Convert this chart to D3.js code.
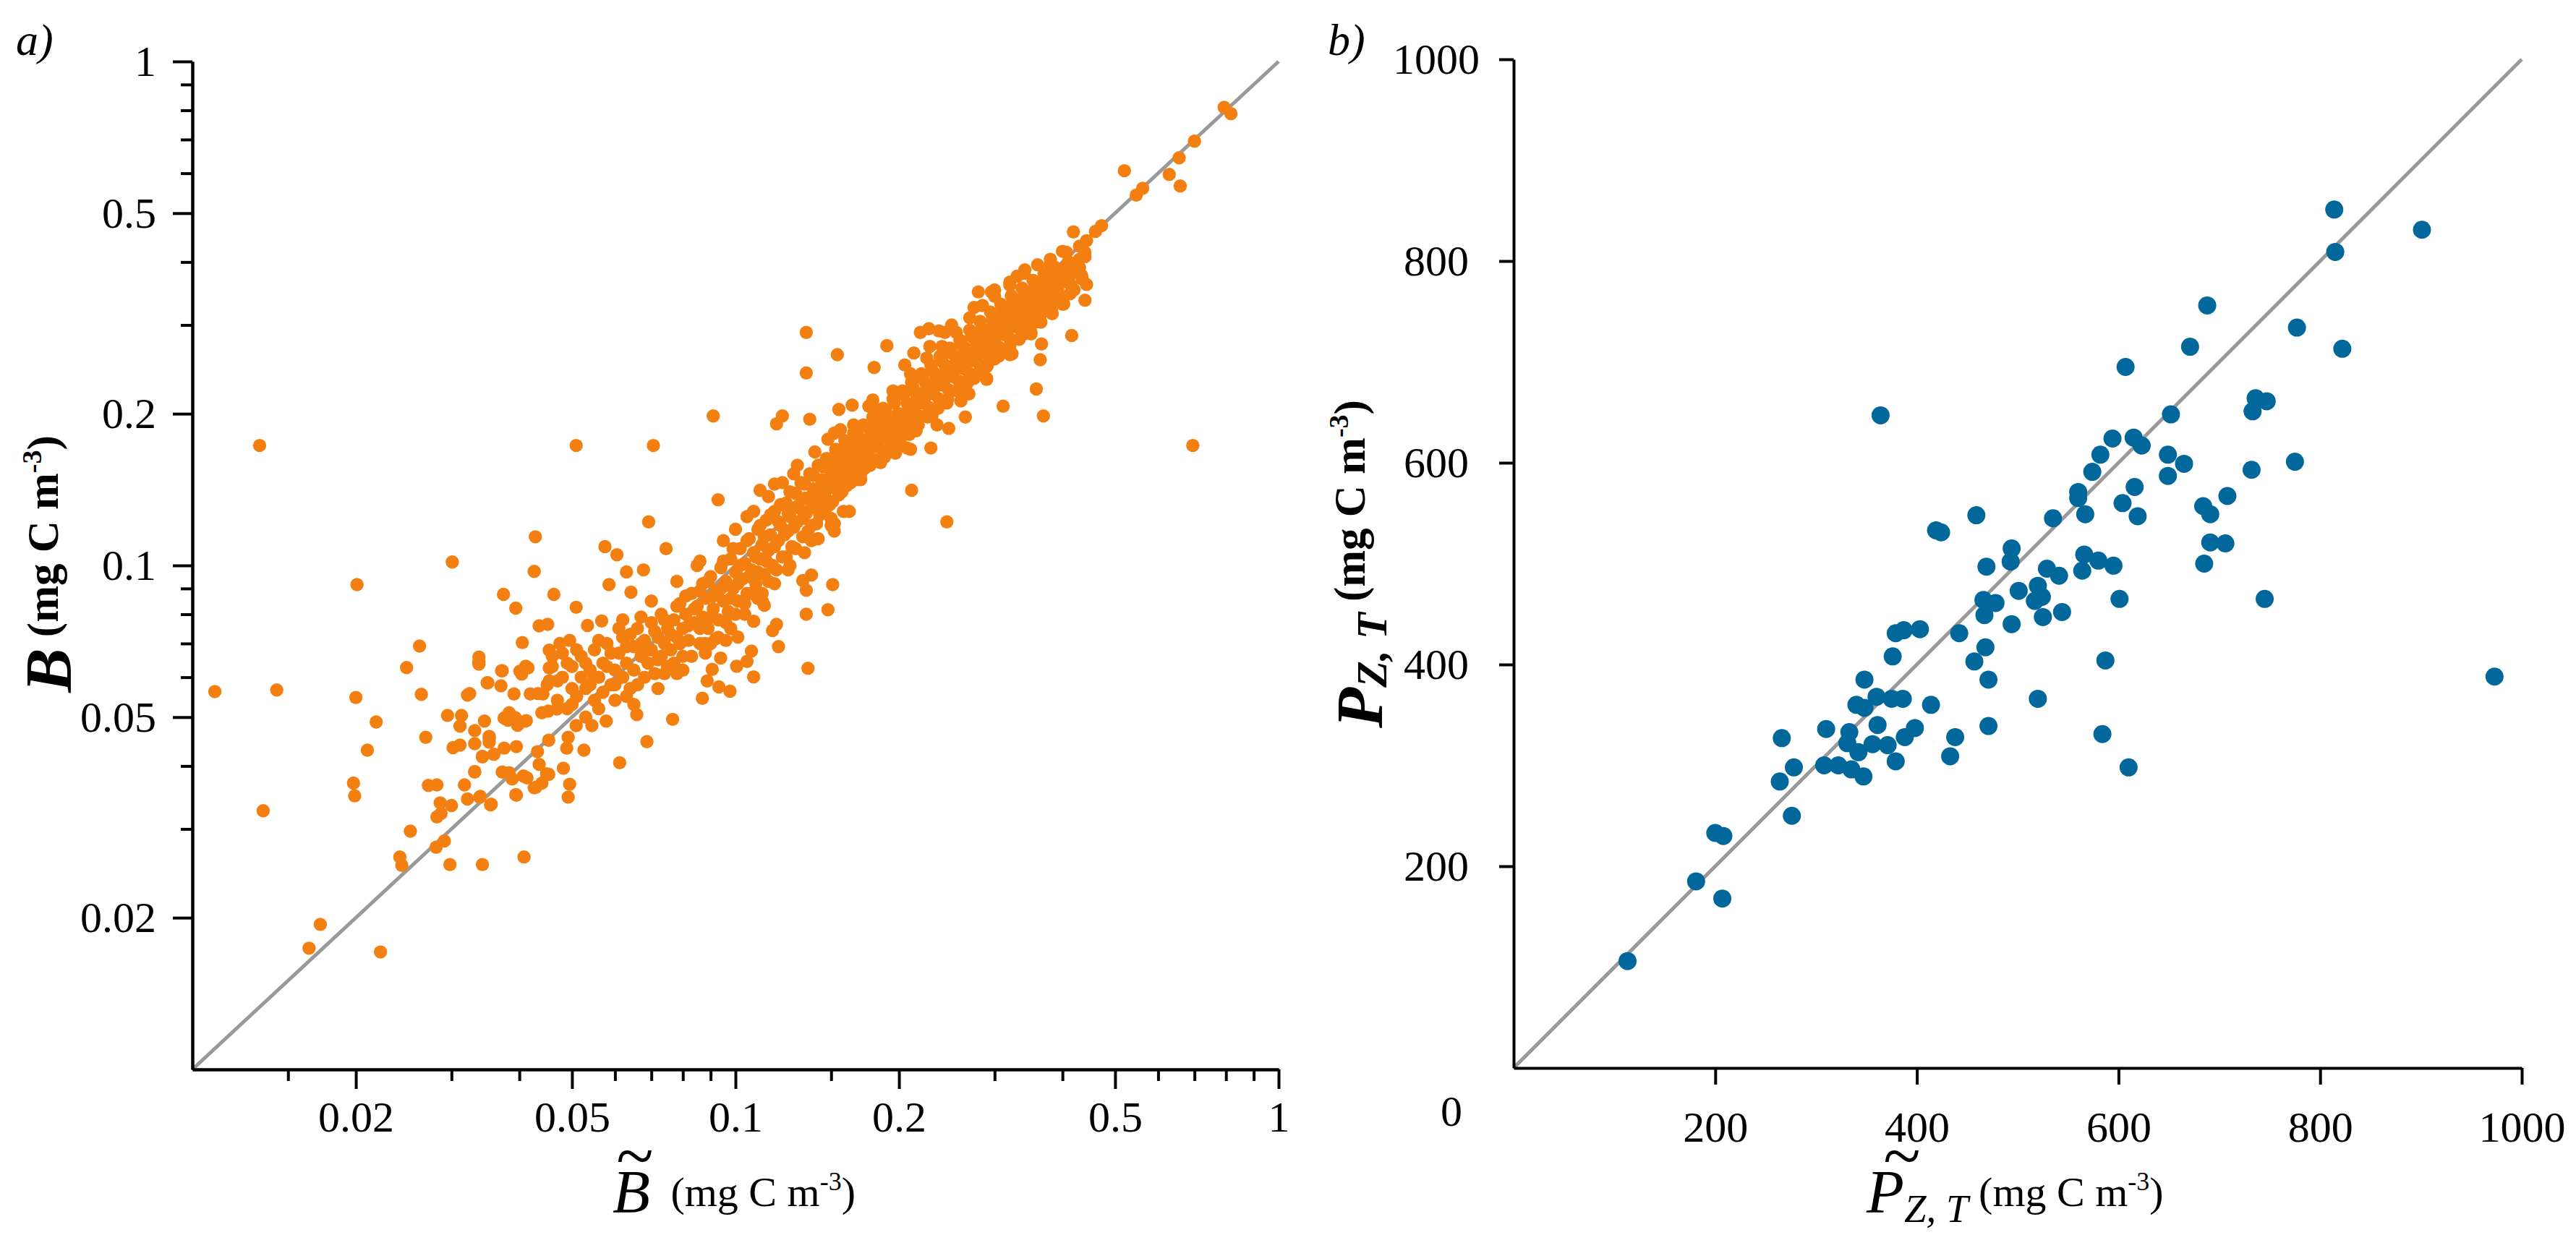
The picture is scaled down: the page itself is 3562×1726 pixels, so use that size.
<!DOCTYPE html>
<html>
<head>
<meta charset="utf-8">
<script src="https://cdn.jsdelivr.net/npm/d3@7"></script>
<style>
  body { margin: 0; background: #fff; }
  svg { display: block; }
</style>
</head>
<body>
<div id="chart"></div>
<script>
// ---- data: panel a (B~ vs B, mg C m-3), [B~, B]
const bScatterHigh = [
  [0.794,0.811],[0.817,0.788],[0.70,0.695],[0.656,0.644],[0.52,0.607],[0.629,0.597],[0.659,0.566],
  [0.562,0.56],[0.547,0.543],[0.472,0.472],[0.46,0.46],[0.419,0.459],[0.443,0.441],[0.43,0.43],
  [0.44,0.418],[0.407,0.418],[0.416,0.394],[0.434,0.376],[0.443,0.361],[0.413,0.346],[0.44,0.336],
  [0.38,0.396],[0.341,0.386],[0.32,0.365],[0.40,0.365],[0.28,0.349],[0.296,0.349],[0.382,0.323],
  [0.40,0.33],[0.351,0.321],[0.356,0.304],[0.341,0.295],[0.35,0.288],[0.416,0.286],[0.366,0.275],
  [0.364,0.256],[0.358,0.224],[0.369,0.198],[0.311,0.207],[0.29,0.234],[0.265,0.197],[0.247,0.187],
  [0.229,0.171],[0.695,0.173],[0.211,0.141],[0.245,0.122],[0.269,0.219],[0.323,0.263],[0.30,0.257],
  [0.296,0.263],[0.237,0.292],[0.243,0.29],[0.219,0.29],[0.227,0.295],[0.19,0.273],[0.213,0.264],
  [0.18,0.247],[0.154,0.262],[0.135,0.29],[0.135,0.241],[0.137,0.195],[0.122,0.198],[0.119,0.191],
  [0.111,0.141],[0.162,0.128],[0.152,0.121],[0.152,0.117],[0.144,0.132],[0.176,0.207],[0.179,0.213],
  [0.155,0.204],[0.164,0.208],[0.152,0.183],[0.16,0.144],[0.168,0.148],[0.207,0.171],[0.197,0.167],
  [0.188,0.164]
];
const bScatterMid = [
  [0.091,0.198],[0.0509,0.173],[0.0706,0.173],[0.0692,0.122],[0.0929,0.135],[0.0428,0.114],
  [0.0575,0.109],[0.0605,0.105],[0.0745,0.108],[0.0426,0.0973],[0.063,0.0971],[0.0677,0.098],
  [0.0585,0.0916],[0.0374,0.0876],[0.0463,0.0876],[0.0394,0.0823],[0.0509,0.0826],[0.0435,0.0759],
  [0.0451,0.0764],[0.0405,0.0703],[0.0454,0.0679],[0.0475,0.070],[0.0495,0.071],[0.0337,0.0645],
  [0.0372,0.0618],[0.035,0.0585],[0.0324,0.0557],[0.0415,0.0626],[0.0404,0.0609],[0.0454,0.0626],
  [0.0454,0.059],[0.0433,0.0557],[0.0381,0.0493],[0.0393,0.0499],[0.041,0.0491],[0.0345,0.0491],
  [0.0331,0.047],[0.0352,0.0453],[0.0331,0.0443],[0.0342,0.0418],[0.0375,0.0434],[0.0395,0.0437],
  [0.0331,0.0389],[0.0383,0.0388],[0.0407,0.0382],[0.0432,0.0427],[0.0435,0.0403],[0.0453,0.045],
  [0.0453,0.0385],[0.0429,0.0363],[0.0395,0.035],[0.0338,0.0347],[0.0354,0.0335],[0.0482,0.0396],
  [0.0495,0.0368],[0.0492,0.0347],[0.0492,0.0456],[0.0489,0.0434],[0.0526,0.043],[0.0612,0.0406],
  [0.0687,0.0447],[0.0658,0.0506],[0.0766,0.0495],[0.0544,0.0481],[0.0509,0.0481],[0.0578,0.0491],
  [0.0869,0.0545],[0.0887,0.059],[0.0906,0.0622],[0.0932,0.0574],[0.0977,0.0563],[0.0939,0.0655],
  [0.1005,0.0631],[0.105,0.0645],[0.107,0.0676],[0.108,0.0601],[0.12,0.069],[0.136,0.0625],
  [0.135,0.08],[0.148,0.0817],[0.151,0.0916],[0.133,0.0933],[0.138,0.0957],[0.135,0.0893],
  [0.119,0.0764],[0.117,0.0743],[0.108,0.0775],[0.113,0.0834],[0.101,0.0721],[0.096,0.071],
  [0.092,0.0716]
];
const bScatterLow = [
  [0.011,0.0562],[0.0143,0.0566],[0.0133,0.173],[0.0135,0.0326],[0.0201,0.0916],[0.02,0.0547],
  [0.0301,0.1016],[0.0262,0.0692],[0.0248,0.0627],[0.0264,0.0555],[0.0218,0.0489],[0.021,0.043],
  [0.0198,0.037],[0.0199,0.0349],[0.0269,0.0456],[0.0295,0.0504],[0.0313,0.0504],[0.0311,0.048],
  [0.0302,0.0435],[0.0311,0.044],[0.0321,0.0553],[0.0331,0.039],[0.0272,0.0366],[0.0282,0.0367],
  [0.0317,0.0367],[0.0286,0.0338],[0.030,0.0334],[0.0287,0.0322],[0.0282,0.0317],[0.0321,0.0344],
  [0.0339,0.0348],[0.0355,0.0336],[0.0394,0.0351],[0.0252,0.0297],[0.0281,0.0276],[0.0291,0.0284],
  [0.0241,0.0264],[0.0243,0.0254],[0.0298,0.0255],[0.0342,0.0255],[0.0408,0.0264],[0.0172,0.0194],
  [0.0164,0.0174],[0.0222,0.0171],[0.0372,0.0389],[0.0388,0.0377],[0.0413,0.0379],[0.0449,0.0386],
  [0.0426,0.0362],[0.044,0.037],[0.0342,0.0417],[0.0359,0.0422],[0.0352,0.0458],[0.0352,0.0446],
  [0.0375,0.0498],[0.0383,0.051],[0.0397,0.0482],[0.0412,0.0492],[0.0349,0.0585],[0.0371,0.0618],
  [0.037,0.0577],[0.0391,0.0556],[0.0419,0.0556],[0.0442,0.0556],[0.0401,0.0617],[0.0411,0.0631],
  [0.0337,0.0658],[0.0337,0.0637],[0.0452,0.0514],[0.0469,0.0519],[0.0534,0.076],[0.0567,0.0776],
  [0.0642,0.0885]
];
// dense band, estimated
const bCloudLow = [
  [0.044,0.051],[0.045,0.058],[0.046,0.063],[0.047,0.054],[0.048,0.06],[0.048,0.067],[0.049,0.052],
  [0.05,0.057],[0.05,0.063],[0.051,0.055],[0.052,0.06],[0.052,0.066],[0.053,0.05],[0.054,0.058],
  [0.054,0.062],[0.055,0.054],[0.055,0.068],[0.056,0.06],[0.057,0.056],[0.057,0.064],[0.058,0.07],
  [0.059,0.058],[0.06,0.062],[0.06,0.054],[0.061,0.067],[0.062,0.06],[0.062,0.072],[0.063,0.064],
  [0.064,0.057],[0.065,0.069],[0.065,0.062],[0.066,0.075],[0.067,0.066],[0.068,0.06],[0.068,0.071],
  [0.069,0.064],[0.07,0.068],[0.07,0.077],[0.071,0.061],[0.072,0.072],[0.073,0.066],[0.073,0.08],
  [0.074,0.07],[0.075,0.063],[0.075,0.075]
];
const bCloudMid = [
  [0.076,0.068],[0.077,0.078],[0.078,0.072],[0.079,0.084],[0.08,0.066],[0.08,0.075],[0.081,0.08],
  [0.082,0.071],[0.083,0.088],[0.084,0.077],[0.085,0.083],[0.086,0.07],[0.087,0.092],[0.087,0.079],
  [0.088,0.086],[0.089,0.075],[0.09,0.095],[0.091,0.082],[0.092,0.089],[0.093,0.078],[0.094,0.099],
  [0.095,0.085],[0.096,0.093],[0.097,0.081],[0.098,0.103],[0.099,0.09],[0.1,0.097],[0.101,0.085],
  [0.102,0.108],[0.103,0.094],[0.104,0.101],[0.105,0.088],[0.106,0.113],[0.107,0.098],[0.108,0.106],
  [0.109,0.092],[0.11,0.118],[0.111,0.103],[0.112,0.11],[0.113,0.096],[0.114,0.123],[0.115,0.107],
  [0.116,0.115],[0.117,0.1],[0.118,0.128],[0.12,0.112],[0.121,0.12],[0.122,0.104],[0.124,0.133],
  [0.125,0.117],[0.126,0.125],[0.127,0.109],[0.129,0.139],[0.13,0.122],[0.131,0.13],[0.133,0.114],
  [0.134,0.145],[0.135,0.127],[0.136,0.136],[0.138,0.12],[0.139,0.151],[0.14,0.133],[0.142,0.142],
  [0.143,0.126],[0.145,0.157],[0.146,0.139],[0.147,0.148],[0.149,0.132],[0.15,0.163],[0.152,0.145],
  [0.153,0.154],[0.155,0.138],[0.156,0.169],[0.158,0.151],[0.159,0.16],[0.16,0.144]
];
const bCloudHigh = [
  [0.162,0.175],[0.163,0.157],[0.165,0.166],[0.166,0.15],[0.168,0.181],[0.17,0.163],[0.171,0.172],
  [0.173,0.156],[0.175,0.188],[0.176,0.17],[0.178,0.179],[0.18,0.162],[0.182,0.195],[0.183,0.177],
  [0.185,0.186],[0.187,0.169],[0.189,0.202],[0.19,0.184],[0.192,0.193],[0.194,0.176],[0.196,0.21],
  [0.198,0.191],[0.2,0.2],[0.202,0.183],[0.204,0.218],[0.206,0.199],[0.208,0.208],[0.21,0.19],
  [0.212,0.226],[0.214,0.207],[0.216,0.216],[0.218,0.198],[0.221,0.235],[0.223,0.215],[0.225,0.225],
  [0.227,0.206],[0.23,0.244],[0.232,0.224],[0.234,0.234],[0.237,0.214],[0.24,0.254],[0.242,0.233],
  [0.244,0.243],[0.247,0.223],[0.25,0.264],[0.252,0.242],[0.255,0.253],[0.258,0.232],[0.261,0.274],
  [0.263,0.252],[0.266,0.263],[0.269,0.241],[0.272,0.285],[0.275,0.262],[0.278,0.273],[0.281,0.251],
  [0.284,0.296],[0.287,0.272],[0.29,0.284],[0.293,0.261],[0.297,0.307],[0.3,0.283],[0.303,0.295],
  [0.306,0.271],[0.31,0.318],[0.313,0.294],[0.317,0.306],[0.32,0.282],[0.324,0.33],[0.327,0.305],
  [0.331,0.318],[0.335,0.293],[0.339,0.342],[0.342,0.317],[0.346,0.33],[0.35,0.305],[0.354,0.354],
  [0.358,0.329],[0.362,0.342],[0.366,0.316],[0.37,0.366],[0.374,0.341],[0.378,0.354],[0.383,0.328],
  [0.387,0.378],[0.392,0.353],[0.396,0.366],[0.401,0.34],[0.406,0.39],[0.41,0.365],[0.415,0.378],
  [0.42,0.352],[0.425,0.4],[0.43,0.39],[0.44,0.41]
];
const bCloudFill = [
  [0.046,0.066],[0.047,0.059],[0.049,0.064],[0.05,0.053],[0.051,0.068],[0.053,0.057],[0.053,0.064],
  [0.055,0.06],[0.056,0.052],[0.056,0.071],[0.058,0.063],[0.059,0.067],[0.06,0.058],[0.061,0.075],
  [0.063,0.055],[0.063,0.069],[0.064,0.073],[0.066,0.058],[0.067,0.07],[0.067,0.079],[0.069,0.068],
  [0.071,0.074],[0.072,0.065],[0.074,0.078],[0.074,0.061],[0.076,0.073],[0.077,0.064],[0.078,0.083],
  [0.079,0.07],[0.081,0.087],[0.082,0.076],[0.083,0.066],[0.084,0.082],[0.086,0.089],[0.086,0.075],
  [0.088,0.07],[0.089,0.093],[0.09,0.079],[0.091,0.087],[0.093,0.072],[0.094,0.09],[0.095,0.102],
  [0.096,0.077],[0.098,0.086],[0.099,0.108],[0.1,0.08],[0.101,0.092],[0.102,0.1],[0.104,0.084],
  [0.105,0.112],[0.106,0.095],[0.107,0.088],[0.109,0.104],[0.11,0.097],[0.111,0.12],[0.112,0.088],
  [0.113,0.114],[0.114,0.102],[0.115,0.093],[0.116,0.126],[0.118,0.109],[0.119,0.098],[0.12,0.122],
  [0.121,0.132],[0.123,0.115],[0.124,0.104],[0.125,0.127],[0.126,0.14],[0.128,0.119],[0.129,0.108],
  [0.13,0.131],[0.132,0.146],[0.133,0.124],[0.134,0.136],[0.136,0.117],[0.137,0.152],[0.138,0.13],
  [0.139,0.142],[0.141,0.121],[0.142,0.158],[0.143,0.137],[0.144,0.148],[0.146,0.128],[0.147,0.163],
  [0.148,0.142],[0.15,0.154],[0.151,0.134],[0.153,0.17],[0.154,0.149],[0.156,0.16],[0.157,0.14],
  [0.159,0.177],[0.16,0.155],[0.161,0.166],[0.163,0.146],[0.165,0.183],[0.167,0.16],[0.168,0.172],
  [0.17,0.152],[0.172,0.19],[0.174,0.167],[0.175,0.178],[0.177,0.158],[0.179,0.197],[0.181,0.172],
  [0.183,0.186],[0.185,0.163],[0.187,0.205],[0.189,0.179],[0.191,0.193],[0.193,0.17],[0.195,0.214],
  [0.197,0.186],[0.199,0.2],[0.201,0.176],[0.203,0.222],[0.205,0.193],[0.207,0.21],[0.209,0.182],
  [0.211,0.231],[0.213,0.2],[0.215,0.22],[0.217,0.19],[0.22,0.24],[0.222,0.21],[0.224,0.23],
  [0.226,0.197],[0.229,0.25],[0.231,0.219],[0.233,0.24],[0.236,0.205],[0.238,0.26],[0.241,0.228],
  [0.243,0.25],[0.246,0.214],[0.248,0.27],[0.251,0.237],[0.254,0.26],[0.256,0.222],[0.259,0.28],
  [0.262,0.246],[0.265,0.27],[0.267,0.23],[0.27,0.293],[0.273,0.255],[0.276,0.282],[0.279,0.24],
  [0.282,0.305],[0.285,0.265],[0.288,0.293],[0.291,0.25],[0.295,0.318],[0.298,0.276],[0.301,0.305],
  [0.304,0.26],[0.308,0.33],[0.311,0.287],[0.315,0.317],[0.318,0.27],[0.322,0.343],[0.325,0.298],
  [0.329,0.328],[0.333,0.281],[0.337,0.355],[0.341,0.31],[0.345,0.34],[0.349,0.292],[0.353,0.368],
  [0.357,0.32],[0.361,0.352],[0.365,0.304],[0.37,0.38],[0.374,0.332],[0.378,0.364],[0.383,0.316],
  [0.388,0.39],[0.392,0.344],[0.397,0.376],[0.402,0.33],[0.41,0.4],[0.415,0.36],[0.42,0.385],
  [0.43,0.405],[0.435,0.37]
];
const bCloudEdges = [
  [0.165,0.19],[0.18,0.205],[0.195,0.222],[0.21,0.24],[0.225,0.258],[0.24,0.272],[0.255,0.29],
  [0.27,0.31],[0.285,0.328],[0.3,0.342],[0.32,0.36],[0.34,0.38],[0.36,0.395],[0.38,0.405],[0.4,0.42],
  [0.17,0.148],[0.185,0.16],[0.2,0.172],[0.215,0.185],[0.23,0.198],[0.245,0.21],[0.26,0.222],
  [0.275,0.235],[0.29,0.248],[0.305,0.26],[0.32,0.272],[0.34,0.288],[0.36,0.305],[0.38,0.32],[0.4,0.335],
  [0.118,0.145],[0.128,0.152],[0.105,0.125],[0.095,0.112],[0.085,0.1],[0.112,0.085],[0.125,0.098],
  [0.138,0.112],[0.15,0.124],[0.098,0.075],[0.088,0.067],[0.078,0.061],
  [0.1,0.118],[0.108,0.128],[0.115,0.137],[0.122,0.146],[0.13,0.158],[0.14,0.168],[0.148,0.178],
  [0.156,0.186],[0.104,0.08],[0.11,0.086],[0.118,0.092],[0.126,0.1],[0.134,0.106],[0.142,0.113],
  [0.15,0.12],[0.158,0.128],[0.062,0.078],[0.07,0.085],[0.078,0.093],[0.086,0.102],[0.065,0.053],
  [0.072,0.057],[0.08,0.062],[0.09,0.07],[0.205,0.25],[0.228,0.272],[0.25,0.3],[0.275,0.325],
  [0.3,0.352],[0.33,0.375],[0.21,0.17],[0.235,0.19],[0.26,0.212],[0.29,0.235],[0.32,0.262],[0.35,0.29]
];

// ---- data: panel b (P~ Z,T vs P Z,T, mg C m-3), [P~, P]
const pLower = [
  [113,106],[181,185],[207,168],[200,233],[208,230],[276,250],[264,284],[278,298],[266,327],[310,336],
  [308,300],[322,300],[335,296],[347,289],[333,333],[331,322],[342,313],[356,321],[371,320],[379,304],
  [361,340],[388,328],[398,337],[340,360],[348,357],[360,368],[375,366],[386,366],[348,385],[414,360],
  [433,309],[438,328],[471,339],[471,385],[457,403],[468,417],[442,431],[376,408],[379,431],[387,434],
  [403,435],[419,533],[424,531],[459,548],[364,647],[469,497],[494,515],[493,502],[466,464],[478,461],
  [467,449],[494,440],[501,473],[520,478],[524,467],[517,463],[525,447],[544,452],[529,495],[541,488],
  [520,366],[587,404],[584,331],[610,298],[601,465],[564,493],[566,509],[580,503],[595,498],[535,545],
  [567,549],[560,571],[560,565],[574,591],[582,608],[594,624],[615,625],[623,617],[604,560],[616,576],
  [619,547],[649,608],[649,587],[652,648]
];
const pUpper = [
  [814,851],[901,831],[815,809],[688,756],[777,734],[822,713],[671,715],[607,695],[736,664],[747,661],
  [733,651],[775,601],[732,593],[708,567],[684,557],[691,549],[691,521],[706,520],[685,500],[745,465],
  [973,388],[665,599]
];

// ---- ticks
const bMajorTicks = [0.02, 0.05, 0.1, 0.2, 0.5, 1];
const bMinorTicksX = [0.015, 0.03, 0.04, 0.06, 0.07, 0.08, 0.09, 0.15, 0.3, 0.4, 0.6, 0.7, 0.8, 0.9];
const bMinorTicksY = [0.03, 0.04, 0.06, 0.07, 0.08, 0.09, 0.3, 0.4, 0.6, 0.7, 0.8, 0.9];
const pTicks = [200, 400, 600, 800, 1000];

const orange = "#f47f11", blue = "#02679a", lineGrey = "#999999";
const serif = "'Liberation Serif', 'Times New Roman', serif";

const svg = d3.select("#chart").append("svg")
    .attr("width", 3562)
    .attr("height", 1726)
    .style("background-color", "#fff");

// scales
const xA = d3.scaleLog().domain([0.01, 1]).range([266, 1768]);
const yA = d3.scaleLog().domain([0.01, 1]).range([1479, 85]);
const xB = d3.scaleLinear().domain([0, 1000]).range([2093, 3487]);
const yB = d3.scaleLinear().domain([0, 1000]).range([1477, 82]);

function styleAxis(g) {
    g.attr("font-family", serif).attr("font-size", 60);
    g.select(".domain").attr("stroke", "#000").attr("stroke-width", 4);
    g.selectAll(".tick line").attr("stroke", "#000").attr("stroke-width", 4);
    g.selectAll(".tick text").attr("fill", "#000");
}

// ===== panel a =====
svg.append("line")
    .attr("x1", xA(0.01)).attr("y1", yA(0.01))
    .attr("x2", xA(1)).attr("y2", yA(1))
    .attr("stroke", lineGrey).attr("stroke-width", 5);

const bAll = [].concat(bCloudLow, bCloudMid, bCloudHigh, bCloudFill, bCloudEdges,
    bScatterLow, bScatterMid, bScatterHigh);
svg.append("g").selectAll("circle")
    .data(bAll)
    .enter().append("circle")
    .attr("cx", d => xA(d[0]))
    .attr("cy", d => yA(d[1]))
    .attr("r", 9.2)
    .attr("fill", orange);

const fmtB = d3.format("~g");

svg.append("g").attr("transform", `translate(0,${yA(0.01)})`)
    .call(d3.axisBottom(xA).tickValues(bMinorTicksX).tickSize(16).tickSizeOuter(0).tickFormat(""))
    .call(styleAxis);
svg.append("g").attr("transform", `translate(0,${yA(0.01)})`)
    .call(d3.axisBottom(xA).tickValues(bMajorTicks).tickSize(27).tickSizeOuter(0).tickPadding(16).tickFormat(fmtB))
    .call(styleAxis);

svg.append("g").attr("transform", `translate(${xA(0.01)},0)`)
    .call(d3.axisLeft(yA).tickValues(bMinorTicksY).tickSize(16).tickSizeOuter(0).tickFormat(""))
    .call(styleAxis);
svg.append("g").attr("transform", `translate(${xA(0.01)},0)`)
    .call(d3.axisLeft(yA).tickValues(bMajorTicks).tickSize(27).tickSizeOuter(0).tickPadding(23).tickFormat(fmtB))
    .call(styleAxis);

// ===== panel b =====
svg.append("line")
    .attr("x1", xB(0)).attr("y1", yB(0))
    .attr("x2", xB(1000)).attr("y2", yB(1000))
    .attr("stroke", lineGrey).attr("stroke-width", 5);

svg.append("g").selectAll("circle")
    .data(pLower.concat(pUpper))
    .enter().append("circle")
    .attr("cx", d => xB(d[0]))
    .attr("cy", d => yB(d[1]))
    .attr("r", 12.5)
    .attr("fill", blue);

const fmtP = d3.format("d");

svg.append("g").attr("transform", `translate(0,${yB(0)})`)
    .call(d3.axisBottom(xB).tickValues(pTicks).tickSize(23).tickSizeOuter(0).tickPadding(36).tickFormat(fmtP))
    .call(styleAxis);

const yAxisB = svg.append("g").attr("transform", `translate(${xB(0)},0)`)
    .call(d3.axisLeft(yB).tickValues(pTicks).tickSize(20).tickSizeOuter(0).tickFormat(fmtP))
    .call(styleAxis);
yAxisB.selectAll(".tick text").attr("text-anchor", "middle").attr("x", -107);

svg.append("text")
    .attr("x", 2007).attr("y", 1557)
    .attr("text-anchor", "middle")
    .attr("font-family", serif).attr("font-size", 60)
    .text("0");

// ===== labels =====
function panelLabel(x, txt) {
    svg.append("text")
        .attr("x", x).attr("y", 76)
        .attr("font-family", serif).attr("font-size", 62).attr("font-style", "italic")
        .text(txt);
}
panelLabel(22, "a)");
panelLabel(1836, "b)");

// y titles (rotated, bold)
function yTitle(cx, cy, build) {
    const t = svg.append("text")
        .attr("transform", `translate(${cx},${cy}) rotate(-90)`)
        .attr("text-anchor", "middle")
        .attr("font-family", serif)
        .attr("font-weight", "bold");
    build(t);
}
yTitle(98, 780, t => {
    t.append("tspan").attr("font-size", 92).attr("font-style", "italic").text("B");
    t.append("tspan").attr("font-size", 61).attr("dy", -18).text(" (mg C m");
    t.append("tspan").attr("font-size", 38).attr("dy", -23).text("-3");
    t.append("tspan").attr("font-size", 61).attr("dy", 23).text(")");
});
yTitle(1911, 780, t => {
    t.append("tspan").attr("font-size", 92).attr("font-style", "italic").text("P");
    t.append("tspan").attr("font-size", 60).attr("font-style", "italic").attr("dy", 6).text("Z, T");
    t.append("tspan").attr("font-size", 61).attr("dy", -30).text(" (mg C m");
    t.append("tspan").attr("font-size", 38).attr("dy", -23).text("-3");
    t.append("tspan").attr("font-size", 61).attr("dy", 23).text(")");
});

// x titles (regular, with tilde accent above the symbol)
function xTitle(x0, tildeX, build) {
    const t = svg.append("text")
        .attr("x", x0).attr("y", 1677)
        .attr("font-family", serif);
    build(t);
    svg.append("text")
        .attr("x", tildeX).attr("y", 1630)
        .attr("text-anchor", "middle")
        .attr("font-family", serif).attr("font-size", 95)
        .text("~");
}
xTitle(847, 878, t => {
    t.append("tspan").attr("font-size", 85).attr("font-style", "italic").text("B");
    t.append("tspan").attr("font-size", 58).attr("dy", -9).attr("dx", 14).text(" (mg C m");
    t.append("tspan").attr("font-size", 36).attr("dy", -22).text("-3");
    t.append("tspan").attr("font-size", 58).attr("dy", 22).text(")");
});
xTitle(2581, 2630, t => {
    t.append("tspan").attr("font-size", 85).attr("font-style", "italic").text("P");
    t.append("tspan").attr("font-size", 55).attr("font-style", "italic").attr("dy", 13).text("Z, T");
    t.append("tspan").attr("font-size", 58).attr("dy", -22).text(" (mg C m");
    t.append("tspan").attr("font-size", 36).attr("dy", -22).text("-3");
    t.append("tspan").attr("font-size", 58).attr("dy", 22).text(")");
});
</script>
</body>
</html>
